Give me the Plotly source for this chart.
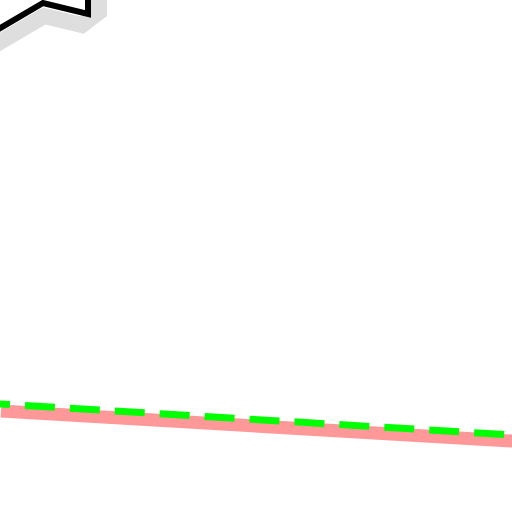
import plotly.graph_objects as go

shadow_x = [-5, 44, 82, 99, 99]
shadow_y = [467, 496, 487, 500, 540]
black_x = [-10, 43, 88, 88]
black_y = [478, 509, 498, 532]
pink_x = [1, 520]
pink_y = [101, 70.5]
green_x = [-20, 520]
green_y = [109.2, 76.5]

fig = go.Figure()
fig.add_trace(go.Scatter(x=shadow_x, y=shadow_y, mode="lines",
                         line=dict(color="#dedede", width=16)))
fig.add_trace(go.Scatter(x=black_x, y=black_y, mode="lines",
                         line=dict(color="black", width=6)))
fig.add_trace(go.Scatter(x=pink_x, y=pink_y, mode="lines",
                         line=dict(color="#ff9999", width=13)))
fig.add_trace(go.Scatter(x=green_x, y=green_y, mode="lines",
                         line=dict(color="#00ff00", width=7, dash="30px,15px")))

fig.update_xaxes(range=[0, 512], visible=False)
fig.update_yaxes(range=[0, 512], visible=False)
fig.update_layout(width=512, height=512, margin=dict(l=0, r=0, t=0, b=0),
                  showlegend=False, template=None,
                  plot_bgcolor="white", paper_bgcolor="white")
# page body has a default margin, drop it so the plot fills the window
fig.write_html("out.html", config={"displayModeBar": False},
               post_script="document.body.style.margin='0';")
